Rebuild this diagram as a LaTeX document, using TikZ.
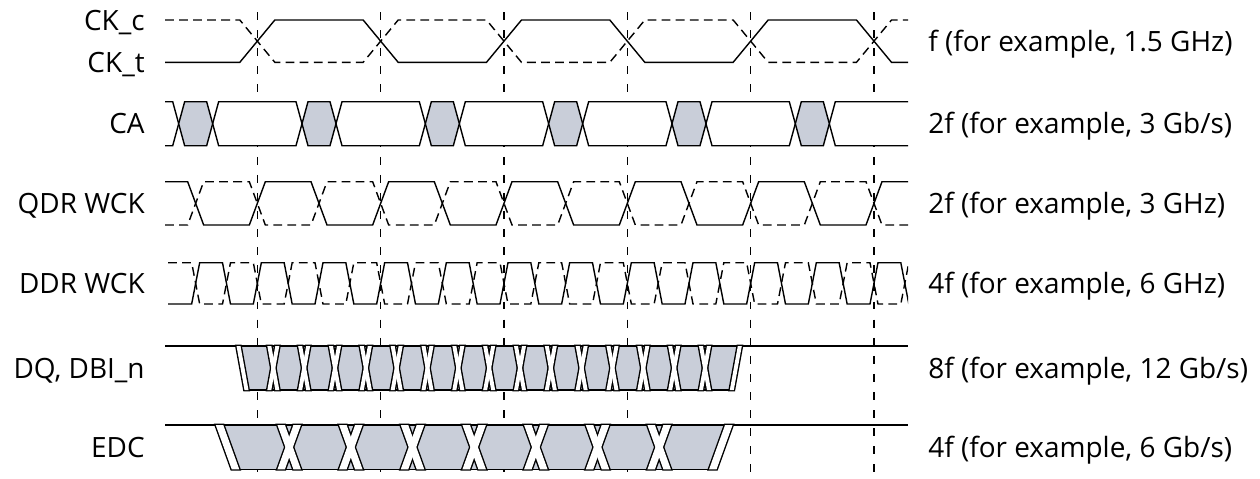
\documentclass[tikz,border=0pt]{standalone}
\usepackage{fontspec}
\setmainfont{Open Sans}
\usetikzlibrary{calc}
\definecolor{eyegray}{RGB}{201,206,217}
\def\tck{123.33}
\def\tzero{257.33}
\def\dnband[#1](#2:#3:#4:#5:#6){\path[#1] ({#2-(#5+#6)/2},#3) -- ({#2+(#6-#5)/2},#3) -- ({#2+(#5+#6)/2},#4) -- ({#2+(#5-#6)/2},#4) -- cycle;}
\def\upband[#1](#2:#3:#4:#5:#6){\path[#1] ({#2-(#5+#6)/2},#4) -- ({#2+(#6-#5)/2},#4) -- ({#2+(#5+#6)/2},#3) -- ({#2+(#5-#6)/2},#3) -- cycle;}

\begin{document}
\begin{tikzpicture}[x=0.02cm, y=-0.02cm,
	sig/.style={line width=0.8pt, line join=miter},
	sigc/.style={sig, dash pattern=on 5pt off 3pt},
	grid/.style={line width=0.6pt, dash pattern=on 4.5pt off 5.8pt},
	lbl/.style={font=\fontsize{15.9}{19}\selectfont, inner sep=0pt},
	bandline/.style={draw=black, line width=1.6pt},
	bandfill/.style={fill=white}]
		%%%%% START %%%%%
		\useasboundingbox (0,0) rectangle (1260,478);
		
		\foreach \k in {0,...,5}
			\draw[grid] ({\tzero+\tck*\k},12) -- ({\tzero+\tck*\k},478);
		
		% CK_t / CK_c
		\draw[sig] (165,62.3) \foreach \i in {0,1,2} { -- ({\tzero+2*\tck*\i-17.5},62.3) -- ({\tzero+2*\tck*\i+17.5},20) -- ({\tzero+(2*\i+1)*\tck-17.5},20) -- ({\tzero+(2*\i+1)*\tck+17.5},62.3)} -- (908,62.3);
		\draw[sigc] (165,20) \foreach \i in {0,1,2} { -- ({\tzero+2*\tck*\i-17.5},20) -- ({\tzero+2*\tck*\i+17.5},62.3) -- ({\tzero+(2*\i+1)*\tck-17.5},62.3) -- ({\tzero+(2*\i+1)*\tck+17.5},20)} -- (908,20);
		
		% CA
		\draw[sig, fill=white] (165,101.7) -- (172.7,101.7) -- (178.7,123.7) -- (172.7,145.7) -- (165,145.7);
		\foreach \k [evaluate=\k as \g using \tzero-\tck/2+\tck*\k] in {0,...,4}
			\draw[sig, fill=white] ({\g+17},123.7) -- ({\g+23},101.7) -- ({\g+\tck-23},101.7) -- ({\g+\tck-17},123.7) -- ({\g+\tck-23},145.7) -- ({\g+23},145.7) -- cycle;
		\draw[sig, fill=white] (908,101.7) -- (835.3,101.7) -- (829.3,123.7) -- (835.3,145.7) -- (908,145.7);
		\foreach \k [evaluate=\k as \g using \tzero-\tck/2+\tck*\k] in {0,...,5}
			\draw[sig, fill=eyegray] ({\g-17},123.7) -- ({\g-11},101.7) -- ({\g+11},101.7) -- ({\g+17},123.7) -- ({\g+11},145.7) -- ({\g-11},145.7) -- cycle;
		
		% QDR WCK
		\draw[sig] (165,181.7) \foreach \i in {0,...,5} { -- ({\tzero-\tck/2+\tck*\i-8},181.7) -- ({\tzero-\tck/2+\tck*\i+8},225) -- ({\tzero+\tck*\i-8},225) -- ({\tzero+\tck*\i+8},181.7)} -- (908,181.7);
		\draw[sigc] (165,225) \foreach \i in {0,...,5} { -- ({\tzero-\tck/2+\tck*\i-8},225) -- ({\tzero-\tck/2+\tck*\i+8},181.7) -- ({\tzero+\tck*\i-8},181.7) -- ({\tzero+\tck*\i+8},225)} -- (908,225);
		
		% DDR WCK
		\begin{scope}
			\clip (160,250) rectangle (908,320);
			\draw[sig] (168,304) \foreach \i in {0,...,11} { -- ({\tzero-\tck/2+\tck/2*\i-4},304) -- ({\tzero-\tck/2+\tck/2*\i+4},262.7) -- ({\tzero-\tck/4+\tck/2*\i-4},262.7) -- ({\tzero-\tck/4+\tck/2*\i+4},304)};
			\draw[sigc] (168,262.7) \foreach \i in {0,...,11} { -- ({\tzero-\tck/2+\tck/2*\i-4},262.7) -- ({\tzero-\tck/2+\tck/2*\i+4},304) -- ({\tzero-\tck/4+\tck/2*\i-4},304) -- ({\tzero-\tck/4+\tck/2*\i+4},262.7)};
		\end{scope}
		
		% DQ, DBI_n
		\fill[eyegray] (240.5,346) -- (737.8,346) -- (729.8,390) -- (248.5,390) -- cycle;
		\draw[sig] (165,346) -- (908,346);
		\draw[sig] (244.5,390) -- (733.8,390);
		\foreach \s in {bandline,bandfill} {
			\dnband[\s](242.5:346:390:8:4)
			\foreach \k [evaluate=\k as \c using \tzero+16+\tck/4*\k] in {0,...,14} {
				\dnband[\s](\c:346:390:8:4)
				\upband[\s](\c:346:390:8:4)
			}
			\upband[\s](735.8:346:390:8:4)
		}
		
		% EDC
		\fill[eyegray] (223.25,425) -- (725.05,425) -- (709.05,469.3) -- (239.25,469.3) -- cycle;
		\draw[sig] (165,425) -- (908,425);
		\draw[sig] (231.75,469.3) -- (716.55,469.3);
		\foreach \s in {bandline,bandfill} {
			\dnband[\s](227.5:425:469.3:16:7.5)
			\foreach \k [evaluate=\k as \c using 227.5+\tck/2*\k] in {1,...,7} {
				\dnband[\s](\c:425:469.3:16:7.5)
				\upband[\s](\c:425:469.3:16:7.5)
			}
			\upband[\s](720.8:425:469.3:16:7.5)
		}
		
		% labels
		\node[lbl, anchor=base east] (ckc) at (145,30) {CK\_c};
		\node[lbl, anchor=base east] (ckt) at (145,72) {CK\_t};
		\node[lbl, anchor=base east] (ca) at (145,133.7) {CA};
		\node[lbl, anchor=base east] (qdr) at (145,213.5) {QDR WCK};
		\node[lbl, anchor=base east] (ddr) at (145,293.5) {DDR WCK};
		\node[lbl, anchor=base east] (dq) at (145,378) {DQ, DBI\_n};
		\node[lbl, anchor=base east] (edc) at (145,457) {EDC};
		
		\node[lbl, anchor=base west] (fck) at (928,51) {f (for example, 1.5 GHz)};
		\node[lbl, anchor=base west] (fca) at (928,133.7) {2f (for example, 3 Gb/s)};
		\node[lbl, anchor=base west] (fqdr) at (928,213.5) {2f (for example, 3 GHz)};
		\node[lbl, anchor=base west] (fddr) at (928,293.5) {4f (for example, 6 GHz)};
		\node[lbl, anchor=base west] (fdq) at (928,378) {8f (for example, 12 Gb/s)};
		\node[lbl, anchor=base west] (fedc) at (928,457) {4f (for example, 6 Gb/s)};
		%%%%% END %%%%%
\end{tikzpicture}
\end{document}
